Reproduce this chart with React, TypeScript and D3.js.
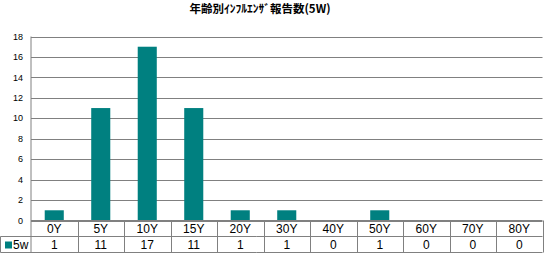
import React from "react";
import * as d3 from "d3";

const categories = ["0Y", "5Y", "10Y", "15Y", "20Y", "30Y", "40Y", "50Y", "60Y", "70Y", "80Y"];
const seriesName = "5w";
const values = [1, 11, 17, 11, 1, 1, 0, 1, 0, 0, 0];
const yTicks = [0, 2, 4, 6, 8, 10, 12, 14, 16, 18];
const title = "年齢別ｲﾝﾌﾙｴﾝｻﾞ報告数(5W)";

const W = 544;
const H = 255;
const left = 31;
const right = 542.5;
const top = 36.5;
const zeroY = 220.5;
const rowH = 16;
const teal = "#008080";
const grid = "#808080";
const font = "'Liberation Sans', Arial, sans-serif";

export default function App() {
  const x = d3.scaleBand<string>().domain(categories).range([left, right]).paddingInner(0).paddingOuter(0);
  const y = d3.scaleLinear().domain([0, 18]).range([zeroY, top]);
  const bw = x.bandwidth() * 0.41;
  return (
    <svg width={W} height={H} style={{ position: "absolute", left: 0, top: 0, background: "#fff" }}>
      <text x={260} y={13} textAnchor="middle" fontSize={11.5} fontWeight="bold" fontFamily="'Noto Sans CJK JP', sans-serif">
        {title}
      </text>
      {yTicks.map((t) => (
        <g key={t}>
          <line x1={left} x2={right} y1={Math.round(y(t)) + 0.5} y2={Math.round(y(t)) + 0.5} stroke={grid} strokeWidth={1} />
          <text x={23} y={y(t)} dy="0.35em" textAnchor="end" fontSize={9} fontFamily={font}>
            {t}
          </text>
        </g>
      ))}
      {categories.map((c, i) => (
        <rect
          key={c}
          x={(x(c) as number) + (x.bandwidth() - bw) / 2}
          y={y(values[i])}
          width={bw}
          height={zeroY - y(values[i])}
          fill={teal}
        />
      ))}
      <line x1={left} x2={left} y1={top} y2={zeroY + rowH * 2} stroke={grid} />
      <line x1={left} x2={right} y1={zeroY} y2={zeroY} stroke={grid} />
      <line x1={0.5} x2={right} y1={zeroY + rowH} y2={zeroY + rowH} stroke={grid} />
      <line x1={0.5} x2={right} y1={zeroY + rowH * 2} y2={zeroY + rowH * 2} stroke={grid} />
      <line x1={0.5} x2={0.5} y1={zeroY + rowH} y2={zeroY + rowH * 2} stroke={grid} />
      {categories.map((c, i) => (
        <g key={c}>
          <line
            x1={Math.round((x(c) as number) + x.bandwidth()) + 0.5}
            x2={Math.round((x(c) as number) + x.bandwidth()) + 0.5}
            y1={zeroY}
            y2={zeroY + rowH * 2}
            stroke={grid}
          />
          <text x={(x(c) as number) + x.bandwidth() / 2} y={zeroY + rowH / 2} dy="0.38em" textAnchor="middle" fontSize={12} fontFamily={font}>
            {c}
          </text>
          <text x={(x(c) as number) + x.bandwidth() / 2} y={zeroY + rowH * 1.5} dy="0.38em" textAnchor="middle" fontSize={12} fontFamily={font}>
            {values[i]}
          </text>
        </g>
      ))}
      <rect x={5} y={zeroY + rowH + 5} width={7} height={7} fill={teal} />
      <text x={13} y={zeroY + rowH * 1.5} dy="0.38em" fontSize={12} fontFamily={font}>
        {seriesName}
      </text>
    </svg>
  );
}
